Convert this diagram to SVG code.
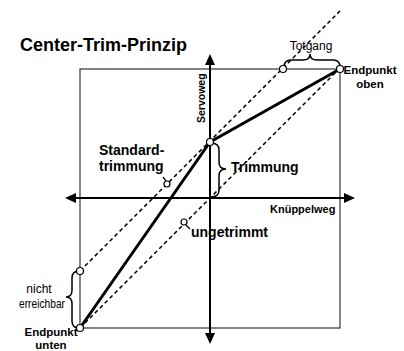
<svg xmlns="http://www.w3.org/2000/svg" width="404" height="351" viewBox="0 0 404 351">
<style>
text{font-family:"Liberation Sans",Arial,sans-serif;fill:#000}
.b{font-weight:bold}
.box{fill:none;stroke:#333;stroke-width:1.2}
.axis{stroke:#000;stroke-width:2;fill:none}
.head{fill:#000;stroke:none}
.thick{stroke:#000;stroke-width:3;fill:none;stroke-linecap:round;stroke-linejoin:round}
.dash{stroke:#000;stroke-width:1.5;fill:none;stroke-dasharray:4 3}
.brace{stroke:#000;stroke-width:1.5;fill:none}
.pt{fill:#fff;stroke:#000;stroke-width:1.2}
.lead{stroke:#000;stroke-width:1.3;fill:none}
</style>
<text id="title" class="b" x="20" y="51" font-size="18">Center-Trim-Prinzip</text>
<rect id="frame" class="box" x="80" y="69" width="260" height="259"/>
<g id="connectors">
<line class="axis" x1="210" y1="64" x2="210" y2="334"/>
<polygon class="head" points="210,54 205,65 215,65"/>
<polygon class="head" points="210,344 205,333 215,333"/>
<line class="axis" x1="75" y1="198" x2="345" y2="198"/>
<polygon class="head" points="65,198 76,193 76,203"/>
<polygon class="head" points="355,198 344,193 344,203"/>
<line class="dash" x1="80" y1="271" x2="340" y2="11"/>
<line class="dash" x1="80" y1="328" x2="340" y2="68"/>
<polyline class="thick" points="80,328 210,142 340,69"/>
<path class="brace" d="M211,143 Q219,143 219,150 L219,162 Q219,169 226,169 Q219,169 219,176 L219,190 Q219,197 211,197"/>
<path class="brace" d="M79,271 Q72,271 72,278 L72,290 Q72,297 66,297 Q72,297 72,304 L72,321 Q72,328 79,328"/>
<path class="brace" d="M284,67 Q284,60 291,60 L303,60 Q310,60 310,54 Q310,60 317,60 L333,60 Q340,60 340,67"/>
<line class="lead" x1="163" y1="177" x2="166" y2="181"/>
<path class="lead" d="M186,225 Q188,227 190,229"/>
</g>
<g id="points">
<circle class="pt" cx="80" cy="271" r="3.5"/>
<circle class="pt" cx="283" cy="69" r="3.5"/>
<circle class="pt" cx="340" cy="69" r="3.5"/>
<circle class="pt" cx="80" cy="328" r="3.5"/>
<circle class="pt" cx="210" cy="142" r="3.5"/>
<circle class="pt" cx="167" cy="184" r="3"/>
<circle class="pt" cx="184" cy="222" r="3"/>
</g>
<g id="labels">
<text class="b" font-size="10.5" transform="translate(205,123) rotate(-90)">Servoweg</text>
<text class="b" font-size="11" x="270" y="213">Knüppelweg</text>
<text class="b" font-size="11.5" x="370" y="74" text-anchor="middle">Endpunkt</text>
<text class="b" font-size="11.5" x="370" y="88" text-anchor="middle">oben</text>
<text font-size="12" x="311" y="50" text-anchor="middle">Totgang</text>
<text class="b" font-size="14" x="99" y="155">Standard-</text>
<text class="b" font-size="14" x="99" y="171">trimmung</text>
<text class="b" font-size="14" x="231" y="172">Trimmung</text>
<text class="b" font-size="14" x="191" y="237">ungetrimmt</text>
<text font-size="12" x="39" y="293" text-anchor="middle">nicht</text>
<text font-size="12" x="42" y="308" text-anchor="middle" textLength="46" lengthAdjust="spacingAndGlyphs">erreichbar</text>
<text class="b" font-size="11.5" x="51" y="336" text-anchor="middle">Endpunkt</text>
<text class="b" font-size="11.5" x="51" y="349" text-anchor="middle">unten</text>
</g>
</svg>
